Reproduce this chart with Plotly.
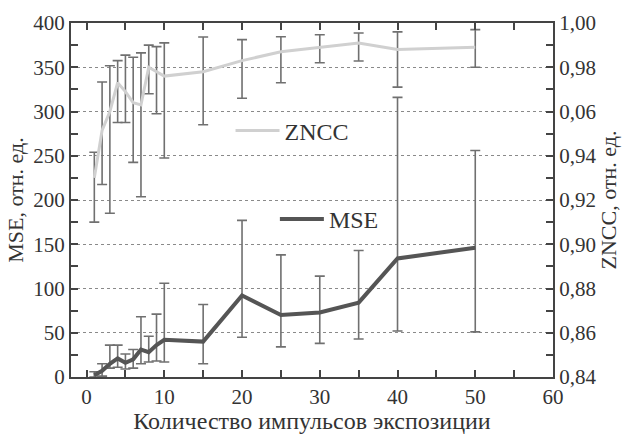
import plotly.graph_objects as go

# --- data ---
x_vals = [1, 2, 3, 4, 5, 6, 7, 8, 9, 10, 15, 20, 25, 30, 35, 40, 50]

mse = [2, 7, 15, 21, 16, 20, 31, 28, 36, 42, 40, 92, 70, 73, 84, 134, 146]
mse_err_plus = [4, 8, 21, 15, 10, 11, 37, 18, 35, 64, 42, 85, 68, 41, 59, 182, 110]
mse_err_minus = [2, 6, 5, 10, 7, 10, 16, 11, 18, 25, 25, 47, 36, 35, 41, 82, 95]

zncc = [0.930, 0.9515, 0.960, 0.973, 0.969, 0.964, 0.963, 0.980, 0.978, 0.976,
        0.978, 0.983, 0.987, 0.989, 0.991, 0.988, 0.989]
zncc_upper = [0.9416, 0.9733, 0.9807, 0.983, 0.9855, 0.9845, 0.9865, 0.990, 0.9893, 0.991,
              0.9937, 0.9925, 0.9938, 0.9947, 0.9955, 0.996, 0.997]
zncc_lower = [0.910, 0.927, 0.914, 0.955, 0.955, 0.937, 0.9215, 0.968, 0.959, 0.939,
              0.954, 0.966, 0.973, 0.982, 0.9828, 0.971, 0.980]

left_ticks = [0, 50, 100, 150, 200, 250, 300, 350, 400]
right_tickvals = [0.84, 0.86, 0.88, 0.90, 0.92, 0.94, 0.96, 0.98, 1.00]
right_ticktext = ["0,84", "0,86", "0,88", "0,90", "0,92", "0,94", "0,06", "0,98", "1,00"]
x_ticks = [0, 10, 20, 30, 40, 50, 60]

zncc_plus = [u - v for u, v in zip(zncc_upper, zncc)]
zncc_minus = [v - l for v, l in zip(zncc, zncc_lower)]

FONT = "Liberation Serif"
TXT = "#333333"
AX = "#444444"
ERR = "#707070"

fig = go.Figure()

fig.add_trace(go.Scatter(
    x=x_vals, y=zncc, name="ZNCC", yaxis="y2", mode="lines",
    line=dict(color="#d0d0d0", width=3),
    error_y=dict(type="data", symmetric=False, array=zncc_plus, arrayminus=zncc_minus,
                 color=ERR, thickness=1.6, width=5),
    legend="legend",
))

fig.add_trace(go.Scatter(
    x=x_vals, y=mse, name="MSE", yaxis="y", mode="lines",
    line=dict(color="#555555", width=4),
    error_y=dict(type="data", symmetric=False, array=mse_err_plus, arrayminus=mse_err_minus,
                 color=ERR, thickness=1.6, width=5),
    legend="legend2",
))

fig.update_layout(
    width=622, height=434,
    margin=dict(l=71, r=69, t=23, b=57, autoexpand=False),
    paper_bgcolor="white", plot_bgcolor="white",
    font=dict(family=FONT, size=21, color=TXT),
    xaxis=dict(
        range=[-2, 60], tickvals=x_ticks, ticks="inside", ticklen=7, tickwidth=2,
        tickcolor=AX, showline=True, linecolor=AX, linewidth=2, mirror="ticks",
        showgrid=False, zeroline=False, automargin=False,
        minor=dict(dtick=5, tick0=0, ticks="inside", ticklen=7, tickwidth=2, tickcolor=AX, showgrid=False),
        title=dict(text="Количество импульсов экспозиции", font=dict(size=24), standoff=1),
    ),
    yaxis=dict(
        range=[0, 400], tickvals=left_ticks, ticks="inside", ticklen=7, tickwidth=2,
        tickcolor=AX, showline=True, linecolor=AX, linewidth=2, automargin=False,
        showgrid=True, gridcolor="#8a8a8a", griddash="dot", gridwidth=1.2, zeroline=False,
        minor=dict(dtick=25, tick0=0, ticks="inside", ticklen=7, tickwidth=2, tickcolor=AX, showgrid=False),
        title=dict(text="MSE, отн. ед.", font=dict(size=22), standoff=4),
    ),
    yaxis2=dict(
        range=[0.84, 1.00], overlaying="y", side="right",
        tickvals=right_tickvals, ticktext=right_ticktext, automargin=False,
        ticks="inside", ticklen=7, tickwidth=2, tickcolor=AX,
        showline=True, linecolor=AX, linewidth=2, showgrid=False, zeroline=False,
        minor=dict(dtick=0.01, tick0=0.84, ticks="inside", ticklen=7, tickwidth=2, tickcolor=AX, showgrid=False),
        title=dict(text="ZNCC, отн. ед.", font=dict(size=22), standoff=0),
    ),
    legend=dict(x=0.331, y=0.695, xanchor="left", yanchor="middle",
                bgcolor="rgba(0,0,0,0)", font=dict(size=24, color=TXT), itemwidth=44),
    legend2=dict(x=0.423, y=0.445, xanchor="left", yanchor="middle",
                 bgcolor="rgba(0,0,0,0)", font=dict(size=24, color=TXT), itemwidth=44),
    showlegend=True,
)

fig.write_html("out.html", config={"displayModeBar": False},
               post_script="document.body.style.margin='0';")
